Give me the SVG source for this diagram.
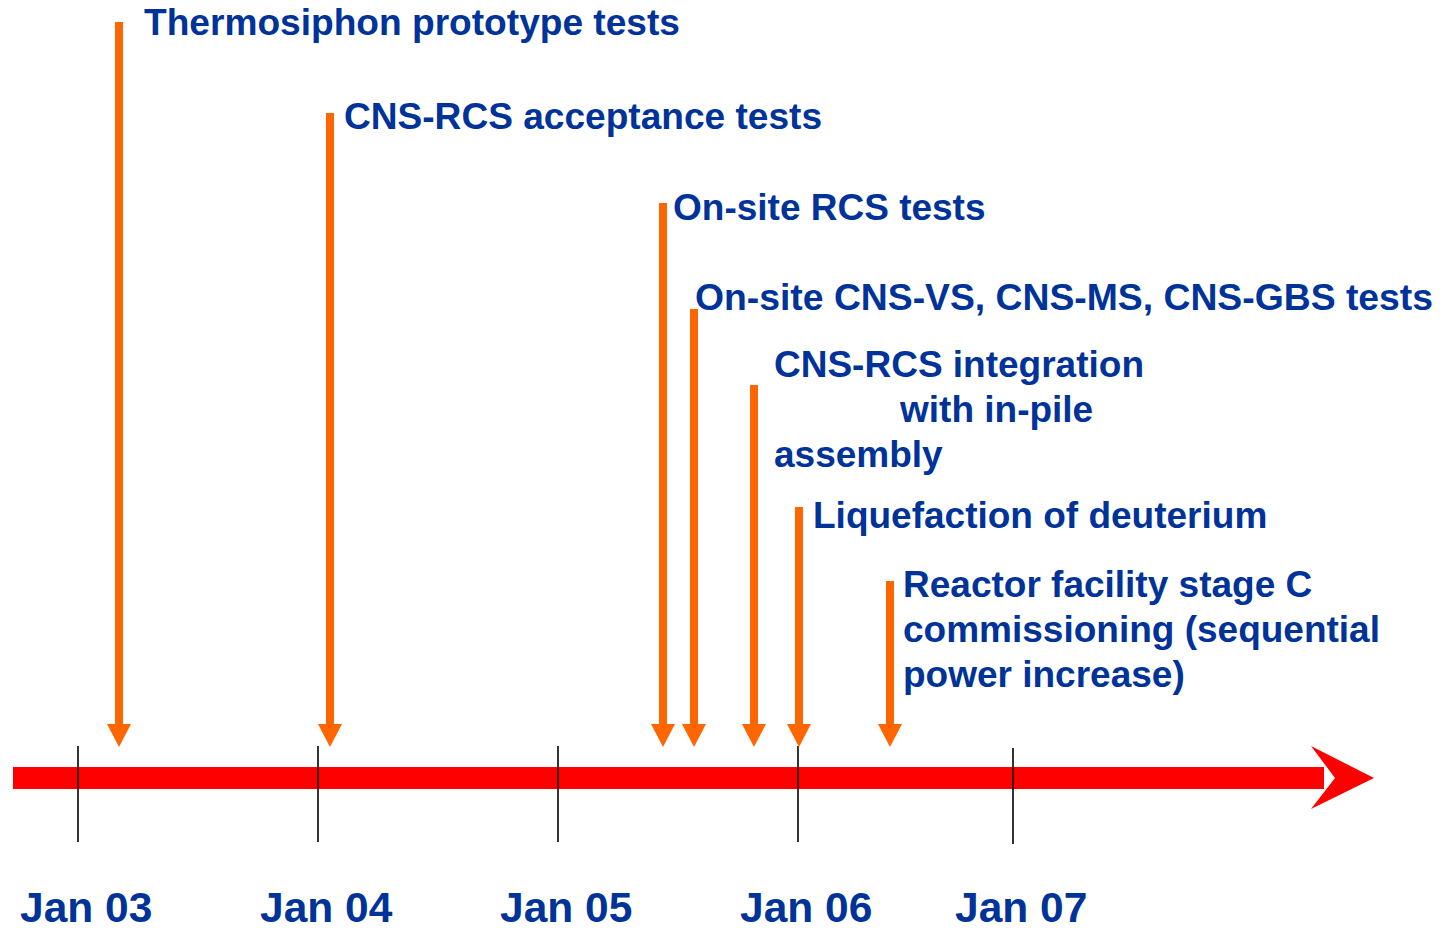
<svg xmlns="http://www.w3.org/2000/svg" width="1454" height="931" viewBox="0 0 1454 931">
<defs>
<style>
.lbl{font-family:"Liberation Sans",Arial,sans-serif;font-weight:bold;font-size:37px;fill:#003399}
.date{font-family:"Liberation Sans",Arial,sans-serif;font-weight:bold;font-size:42.5px;fill:#003399}
.shaft{fill:#FF6600}
.tick{stroke:#000;stroke-width:1.6}
</style>
<path id="ahead" d="M-12,0 L12,0 L0,23 Z" fill="#FF6600"/>
</defs>
<rect width="1454" height="931" fill="#fff"/>
<g id="timeline">
<rect x="13" y="767" width="1311" height="22" fill="#FF0000"/>
<path d="M1311,746 L1374,778 L1311,809 L1335,778 Z" fill="#FF0000"/>
</g>
<g id="ticks">
<line class="tick" x1="78" y1="746" x2="78" y2="842"/>
<line class="tick" x1="318" y1="746" x2="318" y2="842"/>
<line class="tick" x1="558" y1="746" x2="558" y2="842"/>
<line class="tick" x1="798" y1="746" x2="798" y2="842"/>
<line class="tick" x1="1013" y1="748" x2="1013" y2="844"/>
</g>
<g id="connectors">
<rect class="shaft" x="115" y="22" width="8" height="703"/><use href="#ahead" x="119" y="724"/>
<rect class="shaft" x="326" y="113" width="8" height="612"/><use href="#ahead" x="330" y="724"/>
<rect class="shaft" x="659" y="203" width="8" height="522"/><use href="#ahead" x="663" y="724"/>
<rect class="shaft" x="690" y="309" width="8" height="416"/><use href="#ahead" x="694" y="724"/>
<rect class="shaft" x="750" y="385" width="8" height="340"/><use href="#ahead" x="754" y="724"/>
<rect class="shaft" x="795" y="507" width="8" height="218"/><use href="#ahead" x="799" y="724"/>
<rect class="shaft" x="886" y="581" width="8" height="144"/><use href="#ahead" x="890" y="724"/>
</g>
<g id="n1"><text class="lbl" x="144" y="35" textLength="536" lengthAdjust="spacingAndGlyphs">Thermosiphon prototype tests</text></g>
<g id="n2"><text class="lbl" x="344" y="129" textLength="478" lengthAdjust="spacingAndGlyphs">CNS-RCS acceptance tests</text></g>
<g id="n3"><text class="lbl" x="673" y="220">On-site RCS tests</text></g>
<g id="n4"><text class="lbl" x="695" y="310" textLength="738" lengthAdjust="spacingAndGlyphs">On-site CNS-VS, CNS-MS, CNS-GBS tests</text></g>
<g id="n5"><text class="lbl" x="774" y="377">CNS-RCS integration</text><text class="lbl" x="900" y="422">with in-pile</text><text class="lbl" x="774" y="467">assembly</text></g>
<g id="n6"><text class="lbl" x="813" y="528">Liquefaction of deuterium</text></g>
<g id="n7"><text class="lbl" x="903" y="597">Reactor facility stage C</text><text class="lbl" x="903" y="642">commissioning (sequential</text><text class="lbl" x="903" y="687">power increase)</text></g>
<g id="dates">
<text class="date" x="20" y="922">Jan 03</text>
<text class="date" x="260" y="922">Jan 04</text>
<text class="date" x="500" y="922">Jan 05</text>
<text class="date" x="740" y="922">Jan 06</text>
<text class="date" x="955" y="922">Jan 07</text>
</g>
</svg>
